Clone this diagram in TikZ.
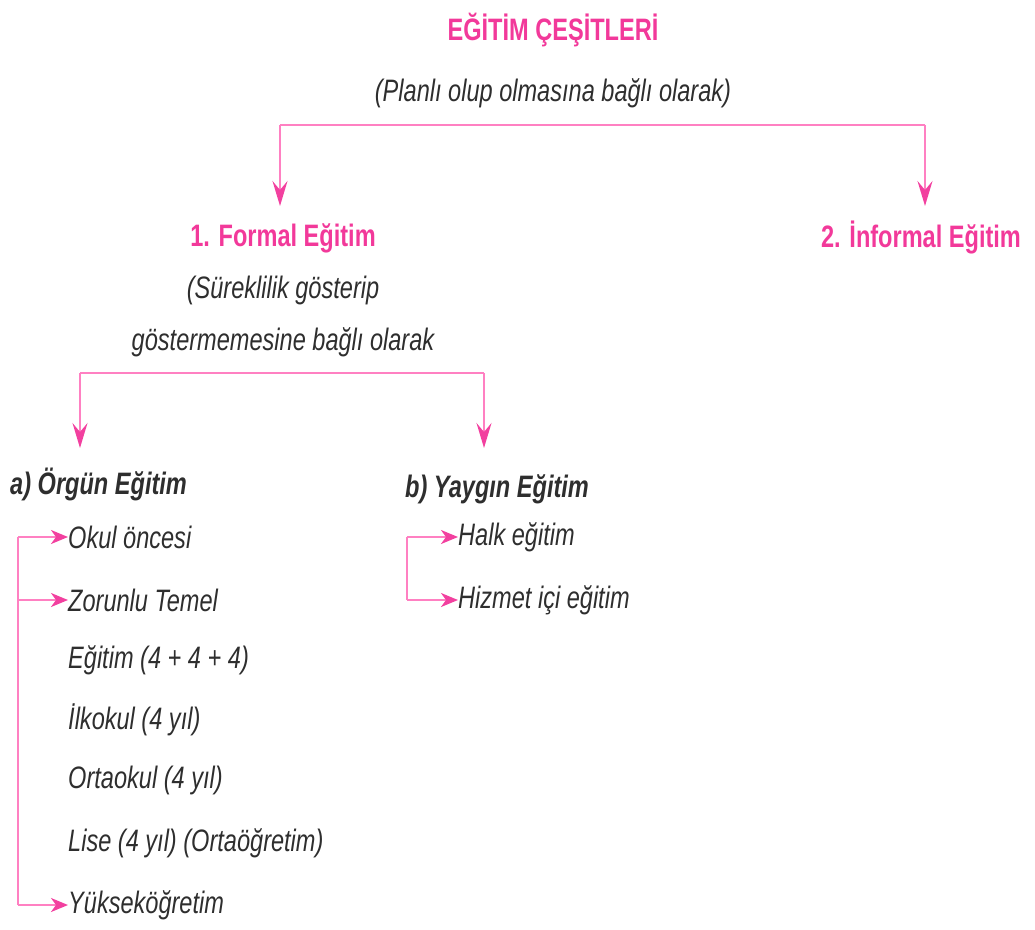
\documentclass[tikz,border=0pt]{standalone}
\usepackage{fontspec}
\setmainfont{Liberation Sans}[FakeStretch=0.76]
\usetikzlibrary{arrows.meta}
\definecolor{pinktext}{HTML}{F2399A}
\definecolor{pinkline}{HTML}{FF80C2}
\definecolor{pinktip}{HTML}{F2409F}
\definecolor{darktext}{HTML}{2E2E2E}
\tikzset{
  conn/.style={draw=pinkline, line width=2pt, -{Stealth[length=25pt,width=15pt,inset=9pt,fill=pinktip,color=pinktip]}},
  hconn/.style={draw=pinkline, line width=2pt, -{Stealth[length=17pt,width=14pt,inset=5pt,fill=pinktip,color=pinktip]}},
  link/.style={draw=pinkline, line width=2pt},
  title/.style={text=pinktext, font=\fontsize{31}{34}\selectfont\bfseries, inner sep=0pt},
  sub/.style={text=darktext, font=\fontsize{31}{34}\selectfont\itshape, inner sep=0pt},
  head/.style={text=darktext, font=\fontsize{31}{34}\selectfont\bfseries\itshape, inner sep=0pt, anchor=west},
  item/.style={text=darktext, font=\fontsize{31}{34}\selectfont\itshape, inner sep=0pt, anchor=west},
}
\begin{document}
\begin{tikzpicture}[x=1pt,y=-1pt]
\useasboundingbox (0,0) rectangle (1035,929);
\node[title] (t) at (553,30) {EĞİTİM ÇEŞİTLERİ};
\node[sub] (s) at (553,93) {(Planlı olup olmasına bağlı olarak)};
\node[title] (f) at (283,238) {1. Formal Eğitim};
\node[title] (i) at (921,238) {2. İnformal Eğitim};
\node[sub] (f1) at (283,290) {(Süreklilik gösterip};
\node[sub] (f2) at (283,342) {göstermemesine bağlı olarak};
\node[head] (a) at (10,484) {a) Örgün Eğitim};
\node[head] (b) at (405,489) {b) Yaygın Eğitim};
\node[item] (a1) at (68,537) {Okul öncesi};
\node[item] (a2) at (68,600) {Zorunlu Temel};
\node[item] (a3) at (68,660) {Eğitim (4 + 4 + 4)};
\node[item] (a4) at (68,720) {İlkokul (4 yıl)};
\node[item] (a5) at (68,780) {Ortaokul (4 yıl)};
\node[item] (a6) at (68,843) {Lise (4 yıl) (Ortaöğretim)};
\node[item] (a7) at (68,905) {Yükseköğretim};
\node[item] (b1) at (458,537) {Halk eğitim};
\node[item] (b2) at (458,600) {Hizmet içi eğitim};
% top split
\coordinate (tl) at (280,125);
\coordinate (tr) at (925,125);
\draw[link] (tl) -- (tr);
\draw[conn] (tl) -- (280,206);
\draw[conn] (tr) -- (925,206);
% formal split
\coordinate (fl) at (80,373);
\coordinate (fr) at (484,373);
\draw[link] (fl) -- (fr);
\draw[conn] (fl) -- (80,448);
\draw[conn] (fr) -- (484,448);
% orgun bracket
\coordinate (ab) at (18,537);
\coordinate (ae) at (18,905);
\draw[link] (ab) -- (ae);
\draw[hconn] (ab) -- (a1.west);
\draw[hconn] (18,600) -- (a2.west);
\draw[hconn] (ae) -- (a7.west);
% yaygin bracket
\coordinate (bb) at (407,537);
\coordinate (be) at (407,600);
\draw[link] (bb) -- (be);
\draw[hconn] (bb) -- (b1.west);
\draw[hconn] (be) -- (b2.west);
\end{tikzpicture}
\end{document}
